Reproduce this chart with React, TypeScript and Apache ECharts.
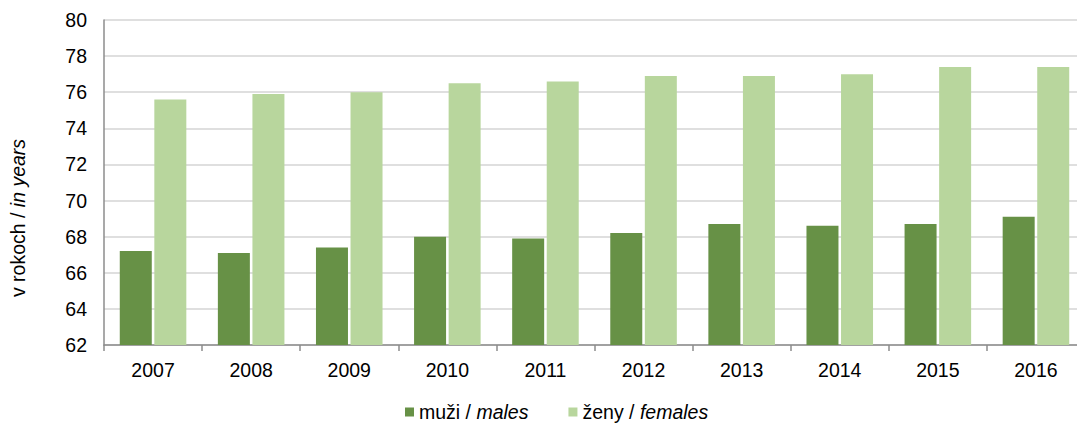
import React, { useEffect, useRef } from "react";
import * as echarts from "echarts";

const categories = ["2007", "2008", "2009", "2010", "2011", "2012", "2013", "2014", "2015", "2016"];
const males = [67.2, 67.1, 67.4, 68.0, 67.9, 68.2, 68.7, 68.6, 68.7, 69.1];
const females = [75.6, 75.9, 76.0, 76.5, 76.6, 76.9, 76.9, 77.0, 77.4, 77.4];
const yTicks = { min: 62, max: 80, interval: 2 };

const FONT = "'Liberation Sans', Arial, sans-serif";
const FS = 19.5;

export default function App() {
  const ref = useRef<HTMLDivElement>(null);
  useEffect(() => {
    if (!ref.current) return;
    const chart = echarts.init(ref.current, undefined, { renderer: "svg" });
    chart.setOption({
      animation: false,
      textStyle: { fontFamily: FONT },
      grid: { left: 104, top: 20, width: 981, height: 325, outerBoundsMode: "none", containLabel: false },
      legend: {
        top: 397,
        left: 400,
        icon: "rect",
        itemWidth: 9,
        itemHeight: 9,
        itemGap: 40,
        data: ["muži / males", "ženy / females"],
        formatter: (name: string) => {
          const [a, b] = name.split(" / ");
          return `{n|${a} / }{i|${b}}`;
        },
        textStyle: {
          fontFamily: FONT,
          fontSize: FS,
          color: "#000",
          rich: {
            n: { fontFamily: FONT, fontSize: FS, color: "#000" },
            i: { fontFamily: FONT, fontSize: FS, color: "#000", fontStyle: "italic" },
          },
        },
      },
      xAxis: {
        type: "category",
        data: categories,
        axisLine: { lineStyle: { color: "#8c8c8c", width: 1.5 } },
        axisTick: { show: true, length: 6, lineStyle: { color: "#8c8c8c", width: 1.5 } },
        axisLabel: { color: "#000", fontSize: FS, margin: 15, fontFamily: FONT },
      },
      yAxis: {
        type: "value",
        min: yTicks.min,
        max: yTicks.max,
        interval: yTicks.interval,
        axisLine: { show: true, lineStyle: { color: "#8c8c8c", width: 1.5 } },
        axisTick: { show: false },
        splitLine: { lineStyle: { color: "#d4d4d4", width: 1.5 } },
        axisLabel: { color: "#000", fontSize: FS, margin: 17, fontFamily: FONT },
      },
      graphic: [
        {
          type: "text",
          x: 18,
          y: 218,
          rotation: Math.PI / 2,
          style: {
            text: "{n|v rokoch / }{i|in years}",
            align: "center",
            verticalAlign: "middle",
            rich: {
              n: { fontFamily: FONT, fontSize: FS, fill: "#000" },
              i: { fontFamily: FONT, fontSize: FS, fill: "#000", fontStyle: "italic" },
            },
          },
        },
      ],
      series: [
        {
          name: "muži / males",
          type: "bar",
          data: males,
          barWidth: 32,
          barGap: "8%",
          itemStyle: { color: "#679146" },
        },
        {
          name: "ženy / females",
          type: "bar",
          data: females,
          barWidth: 32,
          itemStyle: { color: "#b8d69d" },
        },
      ],
    });
    return () => chart.dispose();
  }, []);
  return (
    <div
      ref={ref}
      style={{ position: "fixed", left: 0, top: 0, width: 1077, height: 427, background: "#fff" }}
    />
  );
}
